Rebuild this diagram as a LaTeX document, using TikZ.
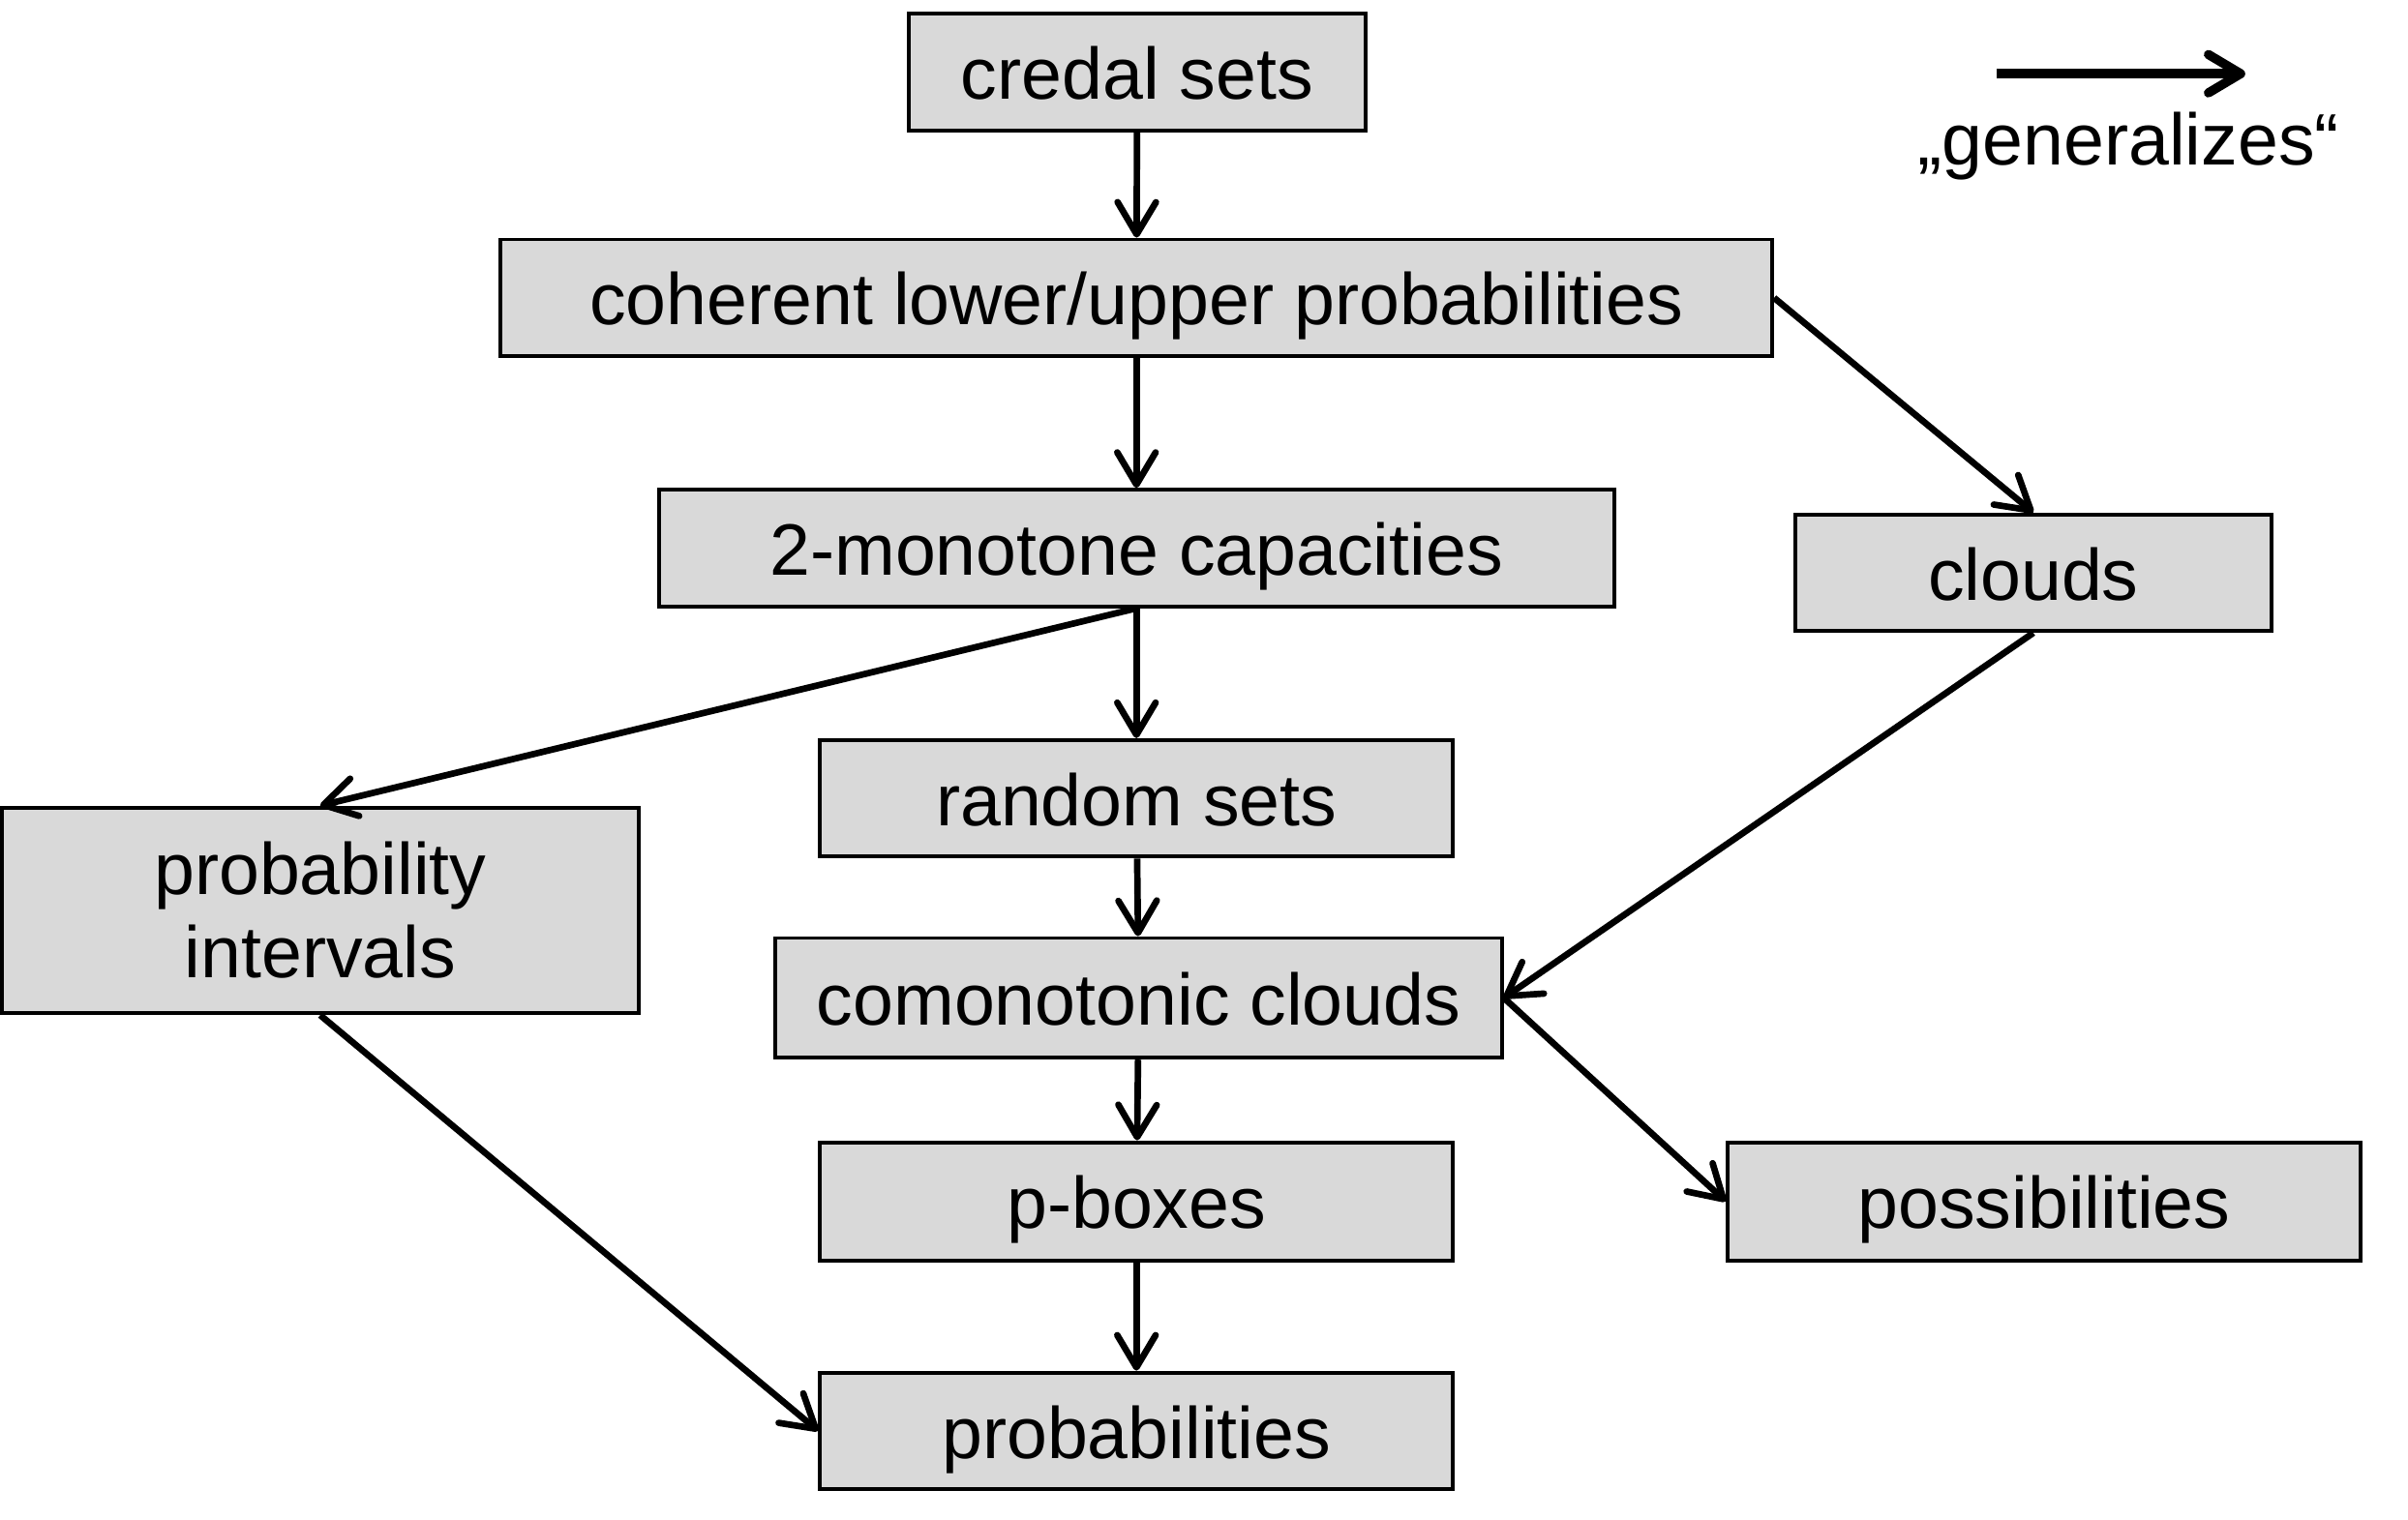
\documentclass[tikz,border=0pt]{standalone}
\usepackage{fontspec}
\setmainfont{Liberation Sans}
\usepackage{tikz}
\usetikzlibrary{shapes,arrows.meta,positioning,calc}
\definecolor{boxgray}{RGB}{217,217,217}

\tikzset{
  box/.style={rectangle,draw,line width=0.7pt,fill=boxgray,inner sep=0pt,
    text height=12.8pt,text depth=2.7pt,
    minimum height=0.76cm,align=center,font=\fontsize{13.5}{15.4}\selectfont},
  gen/.style={line width=1.2pt,-{Straight Barb[length=2.1mm,width=2.5mm,line cap=round,line join=round]}}
}

\begin{document}
\begin{tikzpicture}
  \useasboundingbox (0,0) rectangle (15.68,-9.90);

  \node[box,minimum width=2.97cm] (credal) at (7.405,-0.47) {credal sets};
  \node[box,minimum width=8.28cm] (coh) at (7.40,-1.94) {coherent lower/upper probabilities};
  \node[box,minimum width=6.22cm] (mono) at (7.40,-3.57) {2-monotone capacities};
  \node[box,minimum width=3.10cm] (clouds) at (13.24,-3.73) {clouds};
  \node[box,minimum width=4.12cm] (rand) at (7.40,-5.20) {random sets};
  \node[box,text height=,text depth=,minimum width=4.15cm,minimum height=1.34cm] (probint) at (2.085,-5.93) {probability\\intervals};
  \node[box,minimum width=4.73cm,minimum height=0.78cm] (comono) at (7.415,-6.50) {comonotonic clouds};
  \node[box,minimum width=4.12cm,minimum height=0.77cm] (pbox) at (7.40,-7.825) {p-boxes};
  \node[box,minimum width=4.12cm,minimum height=0.77cm] (poss) at (13.31,-7.825) {possibilities};
  \node[box,minimum width=4.12cm] (probs) at (7.40,-9.32) {probabilities};

  % legend
  \coordinate (lgs) at (13.00,-0.48);
  \coordinate (lge) at (14.62,-0.48);
  \draw[gen,line width=1.7pt] (lgs) -- (lge);
  \node[font=\fontsize{13.5}{15.4}\selectfont] (lgtext) at (13.86,-0.95) {„generalizes“};

  % generalization arrows
  \draw[gen] (credal) -- (coh);
  \draw[gen] (coh) -- (mono);
  \draw[gen] (coh.east) -- (clouds.north);
  \draw[gen] (mono.south) -- (probint.north);
  \draw[gen] (mono) -- (rand);
  \draw[gen] (rand) -- (comono);
  \draw[gen] (clouds.south) -- (comono.east);
  \draw[gen] (comono.east) -- (poss.west);
  \draw[gen] (comono) -- (pbox);
  \draw[gen] (pbox) -- (probs);
  \draw[gen] (probint.south) -- (probs.west);

\end{tikzpicture}
\end{document}
